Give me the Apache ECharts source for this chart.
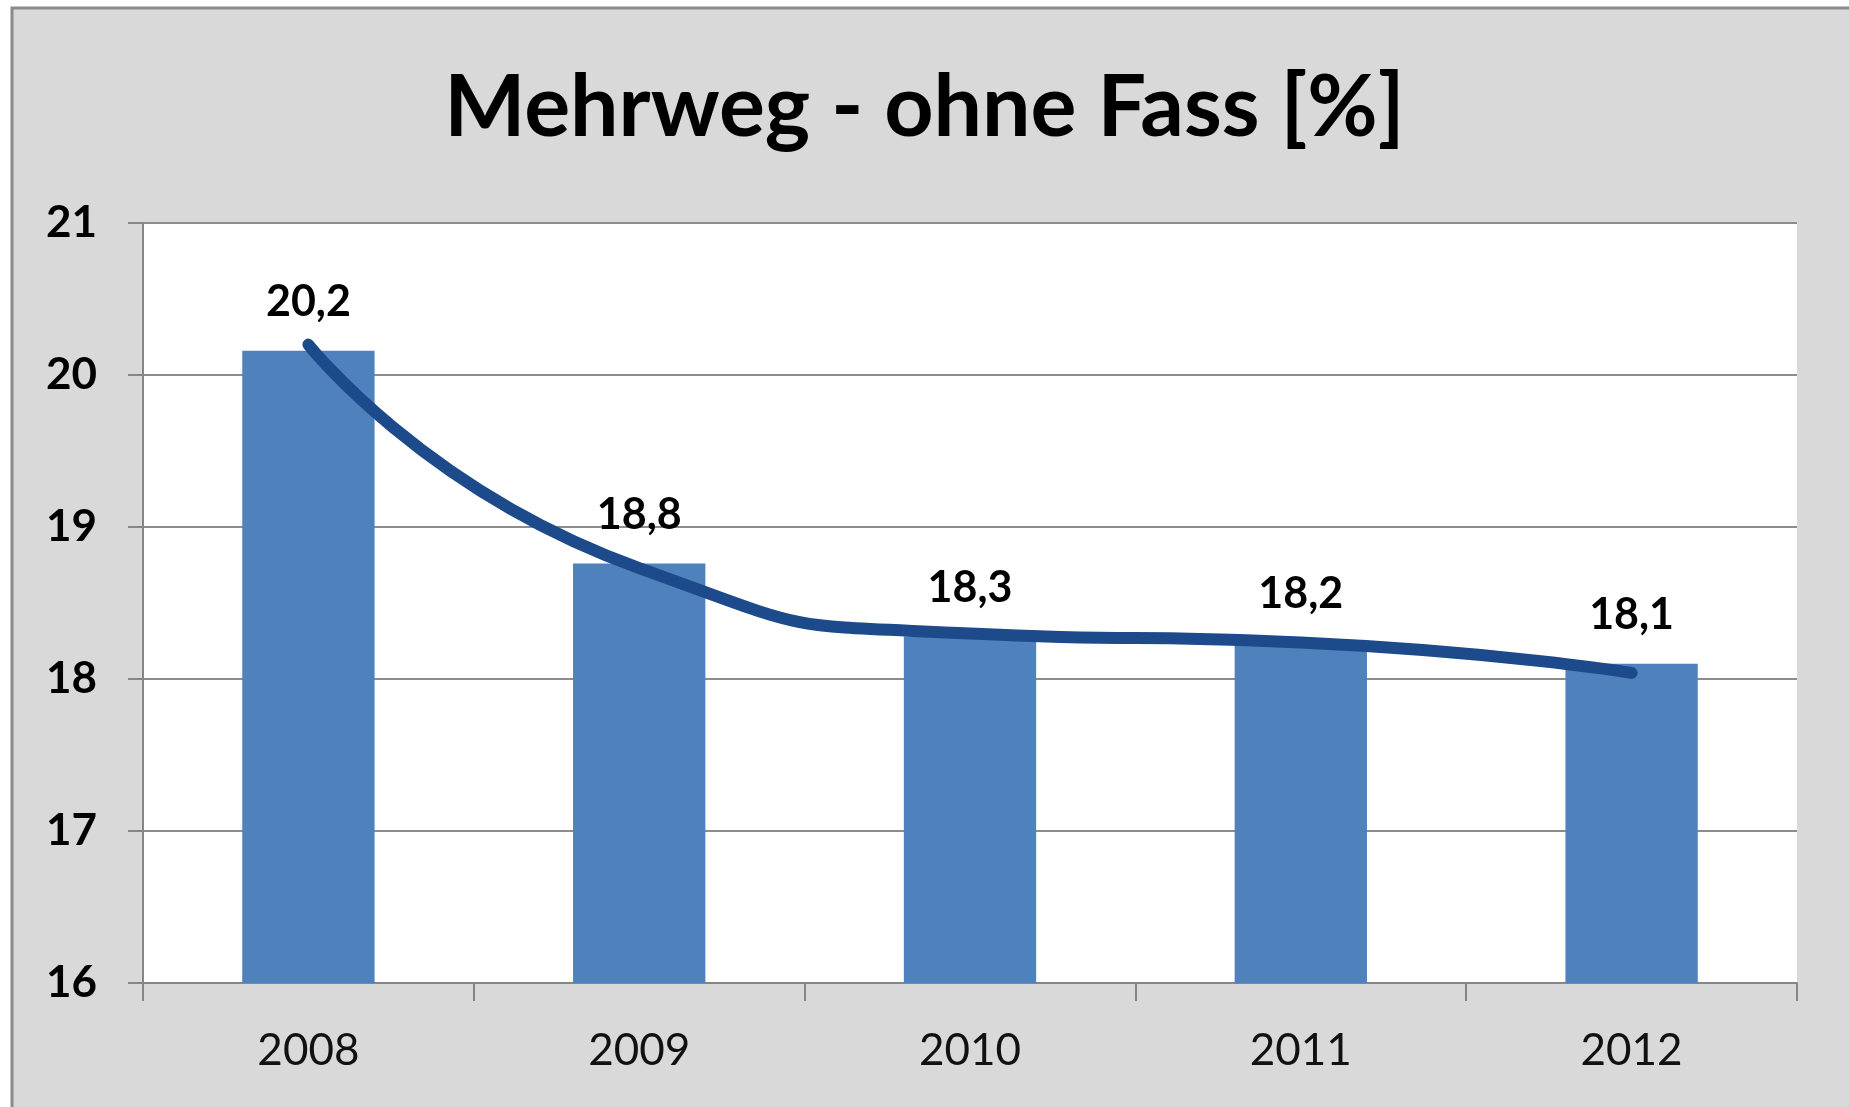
<!DOCTYPE html>
<html>
<head>
<meta charset="utf-8">
<script src="https://cdn.jsdelivr.net/npm/echarts@6/dist/echarts.min.js"></script>
<style>
  html, body { margin: 0; padding: 0; background: #fff; }
  #chartMehrweg { width: 1849px; height: 1107px; }
</style>
</head>
<body>
<div id="chartMehrweg"></div>
<script>
const years = ['2008', '2009', '2010', '2011', '2012'];
const shares = [20.16, 18.76, 18.28, 18.24, 18.1];
const trend = [20.2, 18.73, 18.3, 18.24, 18.04];
const yTicks = [16, 17, 18, 19, 20, 21];

let myChart = echarts.init(document.getElementById('chartMehrweg'));
let option = {
    backgroundColor: '#fff',
    animation: false,
    textStyle: { fontFamily: 'Lato' },
    graphic: [
        {
            type: 'rect',
            z: -100,
            shape: { x: 12, y: 8, width: 1900, height: 1200 },
            style: { fill: '#d9d9d9', stroke: '#8a8a8a', lineWidth: 3 }
        }
    ],
    title: {
        text: 'Mehrweg - ohne Fass [%]',
        left: 'center',
        top: 60,
        textStyle: { fontFamily: 'Lato', fontWeight: 'bold', fontSize: 86, color: '#000' }
    },
    grid: {
        left: 143,
        right: 52,
        top: 223,
        bottom: 124,
        show: true,
        backgroundColor: '#fff',
        borderWidth: 0
    },
    xAxis: {
        type: 'category',
        data: years,
        axisLine: { lineStyle: { color: '#868686', width: 2 } },
        axisTick: { show: true, length: 18, lineStyle: { color: '#868686', width: 2 } },
        axisLabel: { color: '#111', fontSize: 44, margin: 46, fontFamily: 'Lato' }
    },
    yAxis: {
        type: 'value',
        min: yTicks[0],
        max: yTicks[yTicks.length - 1],
        interval: 1,
        axisLine: { show: true, lineStyle: { color: '#868686', width: 2 } },
        axisTick: { show: true, length: 15, lineStyle: { color: '#868686', width: 2 } },
        axisLabel: { color: '#000', fontSize: 44, fontWeight: 'bold', margin: 46, fontFamily: 'Lato' },
        splitLine: { lineStyle: { color: '#8c8c8c', width: 2 } }
    },
    series: [
        {
            name: 'Mehrweg',
            type: 'bar',
            data: shares,
            barWidth: '40%',
            itemStyle: { color: '#4f81bd' },
            label: {
                show: true,
                position: 'top',
                distance: 27,
                fontSize: 43,
                fontWeight: 'bold',
                color: '#000',
                fontFamily: 'Lato',
                formatter: p => p.value.toFixed(1).replace('.', ',')
            }
        },
        {
            name: 'Trend',
            type: 'line',
            data: trend,
            smooth: 0.6,
            symbol: 'none',
            lineStyle: { color: '#1c4a8a', width: 12, cap: 'round' },
            z: 3
        }
    ]
};

option && myChart.setOption(option);
</script>
</body>
</html>
